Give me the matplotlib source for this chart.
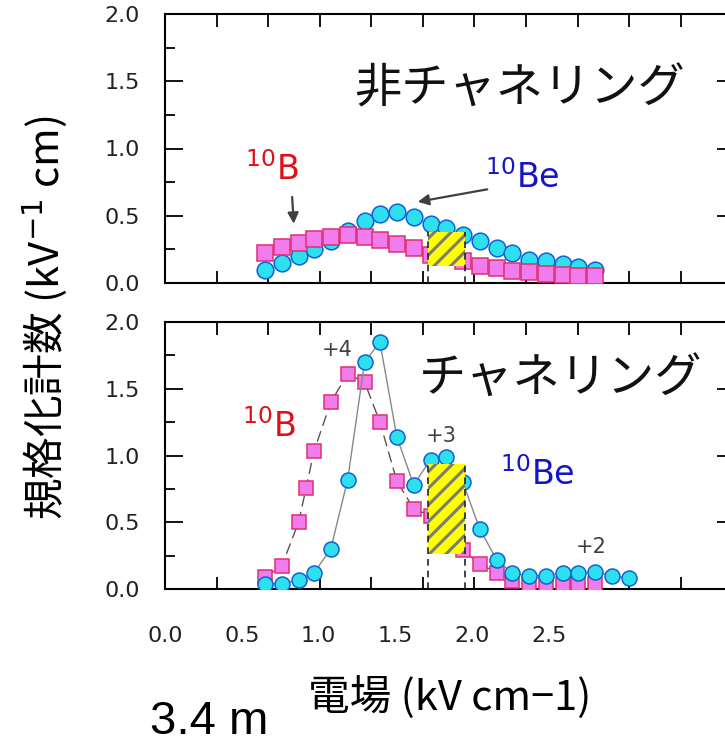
import numpy as np
import matplotlib.pyplot as plt

plt.rcParams['font.family'] = ['DejaVu Sans', 'Noto Sans CJK JP']
plt.rcParams['hatch.linewidth'] = 2.2
CJK = ['Noto Sans CJK JP', 'DejaVu Sans']

# --- data ------------------------------------------------------------
# non-channeling
x_nonch = [0.65, 0.76, 0.87, 0.97, 1.08, 1.19, 1.30, 1.40, 1.51, 1.62, 1.73,
           1.83, 1.94, 2.05, 2.16, 2.26, 2.37, 2.48, 2.59, 2.69, 2.80]
be_nonch = [0.10, 0.15, 0.20, 0.25, 0.31, 0.39, 0.46, 0.51, 0.53, 0.49, 0.44,
            0.41, 0.36, 0.31, 0.26, 0.22, 0.17, 0.16, 0.14, 0.12, 0.10]
b_nonch = [0.22, 0.27, 0.30, 0.33, 0.34, 0.36, 0.34, 0.32, 0.29, 0.26, 0.21,
           0.20, 0.16, 0.13, 0.11, 0.09, 0.08, 0.07, 0.06, 0.05, 0.05]

# channeling
x_be_ch = [0.65, 0.76, 0.87, 0.97, 1.08, 1.19, 1.30, 1.40, 1.51, 1.62, 1.73, 1.83,
           1.94, 2.05, 2.16, 2.26, 2.37, 2.48, 2.59, 2.69, 2.80, 2.91, 3.02]
be_ch = [0.04, 0.04, 0.07, 0.12, 0.30, 0.82, 1.70, 1.85, 1.14, 0.78, 0.97, 0.99,
         0.80, 0.45, 0.22, 0.12, 0.10, 0.10, 0.12, 0.12, 0.13, 0.10, 0.08]
x_b_ch = [0.65, 0.76, 0.87, 0.92, 0.97, 1.08, 1.19, 1.30, 1.40, 1.51, 1.62,
          1.73, 1.83, 1.94, 2.05, 2.16, 2.26, 2.37, 2.48, 2.59, 2.69, 2.80]
b_ch = [0.09, 0.17, 0.50, 0.76, 1.03, 1.40, 1.61, 1.55, 1.25, 0.81, 0.60,
        0.55, 0.42, 0.29, 0.19, 0.12, 0.06, 0.04, 0.04, 0.04, 0.04, 0.04]

# selection window (hatched box)
win_x = [1.715, 1.955]
win_nonch = [0.13, 0.38]
win_ch = [0.26, 0.94]

xtick_labels = ['0.0', '0.5', '1.0', '1.5', '2.0', '2.5']
xtick_pos = [0.0, 0.5, 1.0, 1.5, 2.0, 2.5]

# --- styles ------------------------------------------------------------
be_face, be_edge = '#2ee0ee', '#1060d8'
b_face, b_edge = '#f07cee', '#e0306e'
red, blue, grey = '#e01018', '#1414c8', '#404040'

W, H = 725, 747
fig = plt.figure(figsize=(W / 100, H / 100), dpi=100)
ax1 = fig.add_axes([165 / W, 1 - 283 / H, 570 / W, 269 / H])
ax2 = fig.add_axes([165 / W, 1 - 589 / H, 570 / W, 267 / H])

xmax = 3.713
for ax in (ax1, ax2):
    ax.xaxis.remove_overlapping_locs = False
    ax.set_xlim(0, xmax)
    ax.set_ylim(0, 2.0)
    ax.set_xticks(np.arange(0, xmax, 0.336))
    ax.set_xticks(xtick_pos, minor=True)
    ax.set_yticks([0, 0.5, 1.0, 1.5, 2.0])
    ax.set_yticks(np.arange(0, 2.01, 0.25), minor=True)
    ax.set_yticklabels(['0.0', '0.5', '1.0', '1.5', '2.0'])
    ax.tick_params(which='both', direction='in', top=True, right=True, width=1.3,
                   labelsize=16, labelcolor='#222222')
    ax.tick_params(axis='y', which='major', length=13, pad=18)
    ax.tick_params(axis='y', which='minor', length=7)
    ax.tick_params(axis='x', which='major', length=9, labelbottom=False)
    ax.tick_params(axis='x', which='minor', length=0)
    for s in ax.spines.values():
        s.set_linewidth(1.5)

ax1.tick_params(axis='x', which='minor', labelbottom=False)
ax2.set_xticklabels(xtick_labels, minor=True)
ax2.tick_params(axis='x', which='minor', pad=27)

# top: non-channeling
ax1.plot(x_nonch, be_nonch, 'o', ms=12, mfc=be_face, mec=be_edge, mew=1.1, zorder=3)
ax1.plot(x_nonch, b_nonch, 's', ms=11.3, mfc=b_face, mec=b_edge, mew=1.1, zorder=4)
ax1.bar(win_x[0], win_nonch[1] - win_nonch[0], bottom=win_nonch[0],
        width=win_x[1] - win_x[0], align='edge', color='#ffff00',
        edgecolor='#7a7a7a', hatch='//', linewidth=0, zorder=5)
ax1.vlines(win_x, 0, win_nonch[1], colors='#222222', linestyles=(0, (4, 3)),
           lw=1.2, zorder=6)

# bottom: channeling
ax2.plot(x_b_ch, b_ch, 's', ls=(0, (8, 4)), color='#555555', lw=1.0, ms=9.4,
         mfc=b_face, mec=b_edge, mew=1.1, zorder=3)
ax2.plot(x_be_ch, be_ch, 'o', ls='-', color='#888888', lw=1.0, ms=10.8,
         mfc=be_face, mec=be_edge, mew=1.1, zorder=4)
ax2.bar(win_x[0], win_ch[1] - win_ch[0], bottom=win_ch[0],
        width=win_x[1] - win_x[0], align='edge', color='#ffff00',
        edgecolor='#7a7a7a', hatch='//', linewidth=0, zorder=5)
ax2.vlines(win_x, 0, win_ch[1], colors='#222222', linestyles=(0, (4, 3)),
           lw=1.2, zorder=6)

# annotations
ax1.text(2.306, 1.44, '非チャネリング', fontsize=34, family=CJK,
         ha='center', va='center', color='#111111')
ax1.text(0.697, 0.84, '$^{10}$B', fontsize=24, color=red, ha='center', va='center')
ax1.text(2.326, 0.78, '$^{10}$Be', fontsize=24, color=blue, ha='center', va='center')
arrow = dict(arrowstyle='-|>', color=grey, lw=1.6, mutation_scale=16)
ax1.annotate('', xy=(0.84, 0.42), xytext=(0.827, 0.66), arrowprops=arrow)
ax1.annotate('', xy=(1.629, 0.60), xytext=(2.117, 0.70), arrowprops=arrow)

ax2.text(2.58, 1.566, 'チャネリング', fontsize=34, family=CJK,
         ha='center', va='center', color='#111111')
ax2.text(0.678, 1.22, '$^{10}$B', fontsize=24, color=red, ha='center', va='center')
ax2.text(2.427, 0.854, '$^{10}$Be', fontsize=24, color=blue, ha='center', va='center')
ax2.text(1.124, 1.79, '+4', fontsize=15, color=grey, ha='center', va='center')
ax2.text(1.798, 1.146, '+3', fontsize=15, color=grey, ha='center', va='center')
ax2.text(2.775, 0.317, '+2', fontsize=15, color=grey, ha='center', va='center')

ax2.set_xlabel('電場 (kV cm−1)', fontsize=30, family=CJK, labelpad=22)
fig.text(45 / W, 1 - 318 / H, '規格化計数 (kV$^{-1}$ cm)', fontsize=30, family=CJK,
         rotation=90, ha='center', va='center')
fig.text(150 / W, 1 - 734 / H, '3.4 m', fontsize=34, family='Liberation Sans',
         ha='left', va='baseline')

fig.savefig('out.png', dpi=100)
